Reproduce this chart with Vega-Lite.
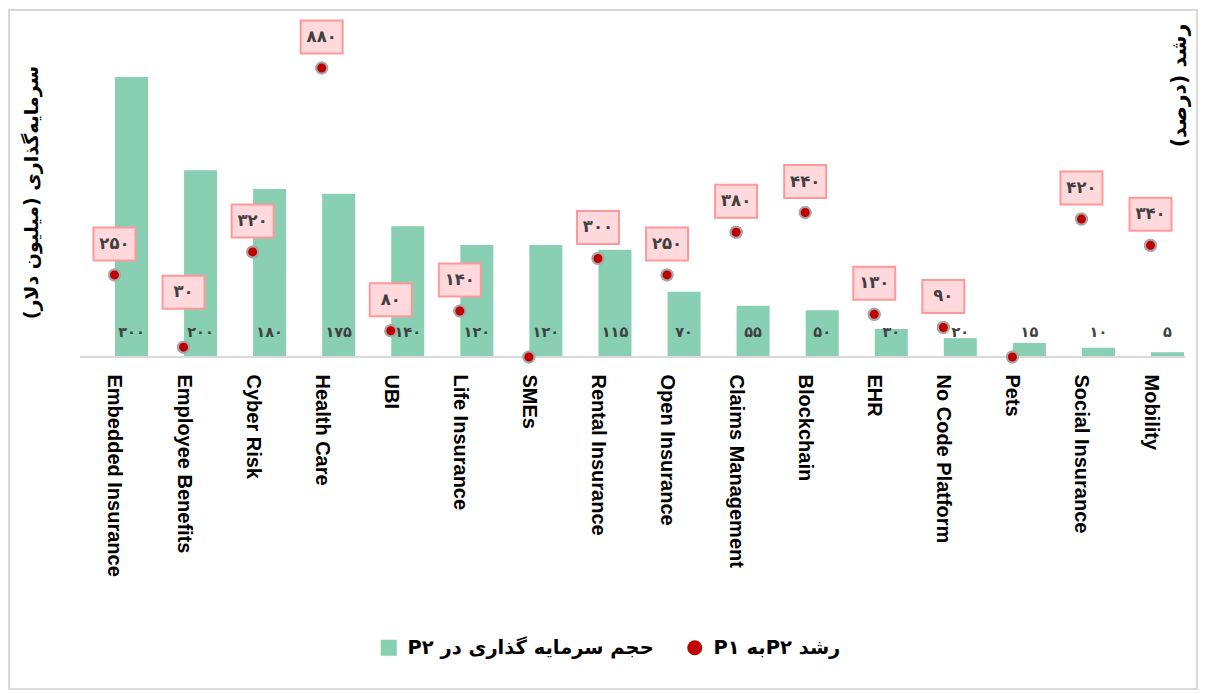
{
  "$schema": "https://vega.github.io/schema/vega-lite/v6.json",
  "width": 1188,
  "height": 679,
  "autosize": {"type": "none"},
  "padding": {"left": 9, "top": 10, "right": 8, "bottom": 5},
  "background": "white",
  "config": {
    "view": {"stroke": "#D9D9D9", "strokeWidth": 2},
    "locale": {"number": {"decimal": ".", "thousands": ",", "grouping": [3], "currency": ["", ""], "numerals": ["۰", "۱", "۲", "۳", "۴", "۵", "۶", "۷", "۸", "۹"]}},
    "legend": {"padding": 0}
  },
  "data": {
    "values": [
      {"cat": "Embedded Insurance", "invest": 300, "growth": 250},
      {"cat": "Employee Benefits", "invest": 200, "growth": 30},
      {"cat": "Cyber Risk", "invest": 180, "growth": 320},
      {"cat": "Health Care", "invest": 175, "growth": 880},
      {"cat": "UBI", "invest": 140, "growth": 80},
      {"cat": "Life Insurance", "invest": 120, "growth": 140},
      {"cat": "SMEs", "invest": 120, "growth": 0},
      {"cat": "Rental Insurance", "invest": 115, "growth": 300},
      {"cat": "Open Insurance", "invest": 70, "growth": 250},
      {"cat": "Claims Management", "invest": 55, "growth": 380},
      {"cat": "Blockchain", "invest": 50, "growth": 440},
      {"cat": "EHR", "invest": 30, "growth": 130},
      {"cat": "No Code Platform", "invest": 20, "growth": 90},
      {"cat": "Pets", "invest": 15, "growth": 0},
      {"cat": "Social Insurance", "invest": 10, "growth": 420},
      {"cat": "Mobility", "invest": 5, "growth": 340}
    ]
  },
  "encoding": {
    "x": {
      "field": "cat",
      "type": "nominal",
      "sort": null,
      "scale": {"paddingInner": 0, "paddingOuter": 0.6, "align": 0.856},
      "axis": {
        "title": null,
        "labelAngle": 90,
        "labelFont": "Liberation Sans",
        "labelFontSize": 20,
        "labelFontWeight": "bold",
        "labelColor": "#000000",
        "labelLimit": 400,
        "labelPadding": 17,
        "ticks": false,
        "domain": false,
        "grid": false,
        "offset": -332
      }
    }
  },
  "layer": [
    {
      "layer": [
        {
          "mark": {"type": "bar", "color": "#88CFB3", "width": 33, "xOffset": 17},
          "encoding": {
            "y": {
              "field": "invest",
              "type": "quantitative",
              "scale": {"domain": [-355.7, 371.8], "nice": false},
              "axis": {
                "orient": "left",
                "title": "‫سرمایه‌گذاری (میلیون دلار)‬",
                "labels": false,
                "ticks": false,
                "domain": false,
                "grid": false,
                "titleAngle": -90,
                "titleX": 22,
                "titleY": 182,
                "titleAlign": "center",
                "titleBaseline": "middle",
                "titleFont": "DejaVu Sans",
                "titleFontSize": 19,
                "titleFontWeight": "bold",
                "titleColor": "#000000"
              }
            },
            "fill": {
              "datum": "‫حجم سرمایه گذاری در P۲‬",
              "scale": {"range": ["#88CFB3"]},
              "legend": {
                "orient": "none",
                "legendX": 370,
                "legendY": 628,
                "title": null,
                "padding": 0,
                "symbolType": "square",
                "symbolSize": 256,
                "symbolStrokeWidth": 0,
                "labelFont": "DejaVu Sans",
                "labelFontSize": 19.5,
                "labelFontWeight": "bold",
                "labelColor": "#000000",
                "labelLimit": 400,
                "labelOffset": 9
              }
            }
          }
        },
        {
          "mark": {"type": "rule", "color": "#D9D9D9", "strokeWidth": 1.5, "xOffset": -34.5, "x2Offset": 34.5},
          "encoding": {
            "x": {"datum": "Embedded Insurance"},
            "x2": {"datum": "Mobility"},
            "y": {"datum": 0}
          }
        },
        {
          "mark": {"type": "text", "xOffset": 17, "dy": -24, "font": "DejaVu Sans", "fontSize": 14.5, "fontWeight": "bold", "color": "#404040", "baseline": "middle", "align": "center"},
          "encoding": {
            "y": {"datum": 0},
            "text": {"field": "invest", "type": "quantitative"}
          }
        }
      ]
    },
    {
      "layer": [
        {
          "mark": {"type": "point", "filled": true, "fill": "#C00000", "stroke": "#A6A6A6", "strokeWidth": 2, "size": 121, "opacity": 1},
          "encoding": {
            "y": {
              "field": "growth",
              "type": "quantitative",
              "scale": {"domain": [-1010.9, 1056.6], "nice": false},
              "axis": {
                "orient": "right",
                "title": "‫رشد (درصد)‬",
                "labels": false,
                "ticks": false,
                "domain": false,
                "grid": false,
                "titleAngle": -90,
                "titleX": -18,
                "titleY": 75,
                "titleAlign": "center",
                "titleBaseline": "middle",
                "titleFont": "DejaVu Sans",
                "titleFontSize": 20.5,
                "titleFontWeight": "bold",
                "titleColor": "#000000"
              }
            },
            "shape": {
              "datum": "‫رشد  P۲به P۱‬",
              "scale": {"range": ["circle"]},
              "legend": {
                "orient": "none",
                "legendX": 676,
                "legendY": 628,
                "title": null,
                "padding": 0,
                "symbolSize": 225,
                "symbolFillColor": "#C00000",
                "symbolStrokeColor": "#A6A6A6",
                "symbolStrokeWidth": 2,
                "labelFont": "DejaVu Sans",
                "labelFontSize": 19.5,
                "labelFontWeight": "bold",
                "labelColor": "#000000",
                "labelLimit": 400,
                "labelOffset": 9,
                "encode": {"symbols": {"update": {"stroke": {"value": "#A6A6A6"}, "strokeWidth": {"value": 2}, "fill": {"value": "#C00000"}}}}
              }
            }
          }
        },
        {
          "transform": [{"filter": "datum.growth > 0 && datum.cat != 'Employee Benefits'"}],
          "layer": [
            {
              "mark": {"type": "point", "shape": "M-1,-0.786L1,-0.786L1,0.786L-1,0.786Z", "size": 1764, "filled": true, "fill": "#FFD9DC", "stroke": "#FF9999", "strokeWidth": 2, "opacity": 1, "yOffset": -31},
              "encoding": {"y": {"field": "growth", "type": "quantitative"}}
            },
            {
              "mark": {"type": "text", "yOffset": -31, "font": "DejaVu Sans", "fontSize": 16.5, "fontWeight": "bold", "color": "#404040", "baseline": "middle", "align": "center"},
              "encoding": {"y": {"field": "growth", "type": "quantitative"}, "text": {"field": "growth", "type": "quantitative"}}
            }
          ]
        },
        {
          "transform": [{"filter": "datum.cat == 'Employee Benefits'"}],
          "layer": [
            {
              "mark": {"type": "point", "shape": "M-1,-0.786L1,-0.786L1,0.786L-1,0.786Z", "size": 1764, "filled": true, "fill": "#FFD9DC", "stroke": "#FF9999", "strokeWidth": 2, "opacity": 1, "yOffset": -55},
              "encoding": {"y": {"field": "growth", "type": "quantitative"}}
            },
            {
              "mark": {"type": "text", "yOffset": -55, "font": "DejaVu Sans", "fontSize": 16.5, "fontWeight": "bold", "color": "#404040", "baseline": "middle", "align": "center"},
              "encoding": {"y": {"field": "growth", "type": "quantitative"}, "text": {"field": "growth", "type": "quantitative"}}
            }
          ]
        },
        {
          "mark": {"type": "point", "filled": true, "fill": "#C00000", "stroke": "#A6A6A6", "strokeWidth": 2, "size": 121, "opacity": 1},
          "encoding": {"y": {"field": "growth", "type": "quantitative"}}
        }
      ]
    }
  ],
  "resolve": {"scale": {"y": "independent"}}
}
